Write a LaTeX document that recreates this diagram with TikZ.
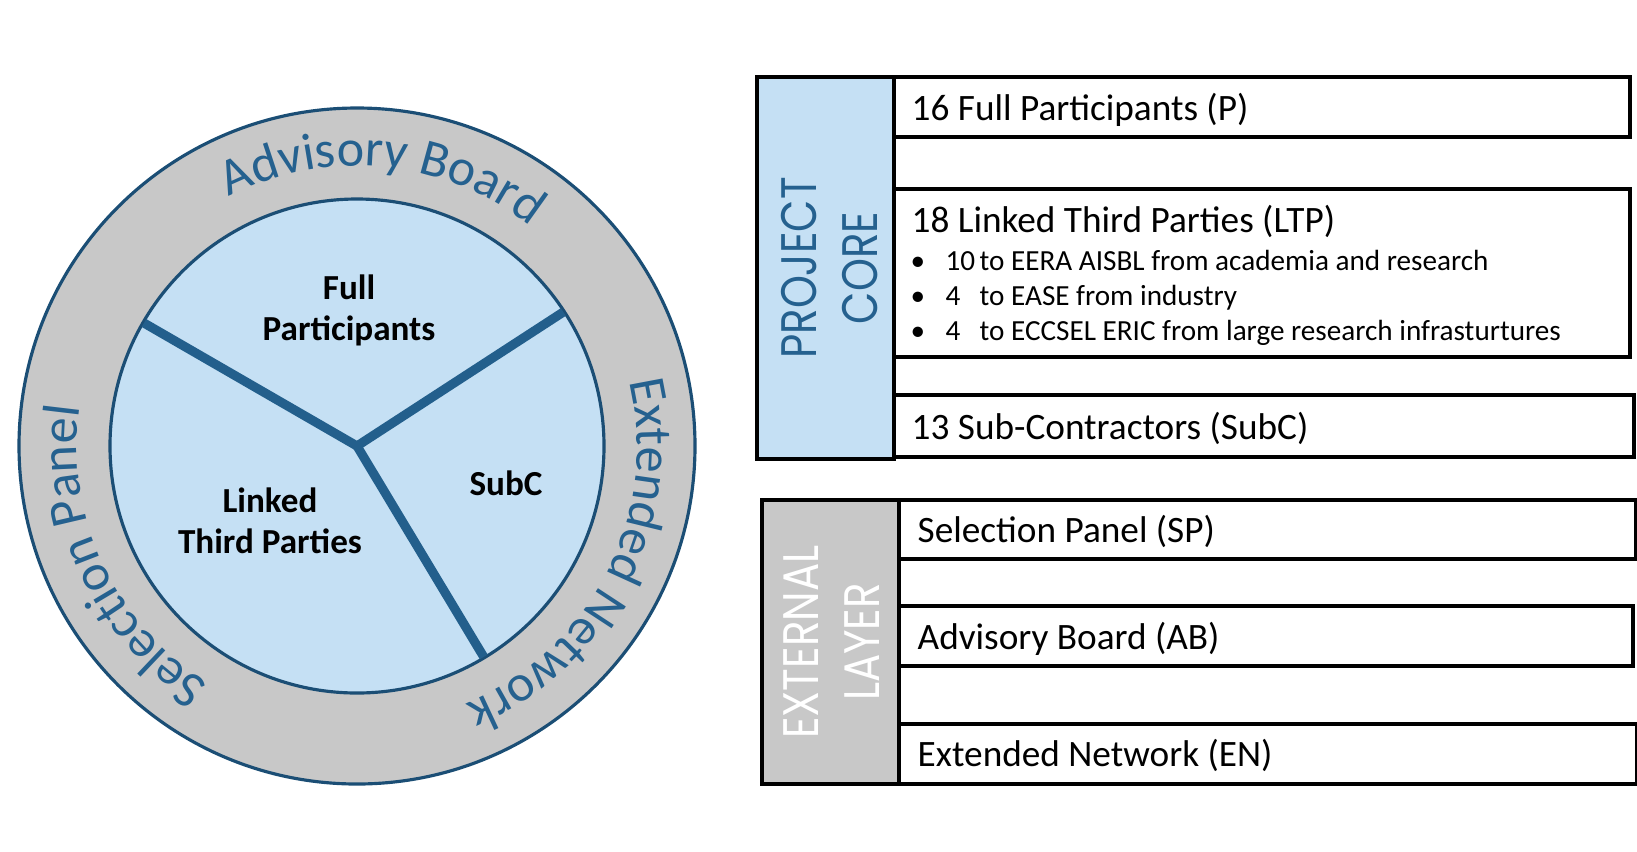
\documentclass[tikz,border=0pt]{standalone}
\usepackage{fontspec}
\setmainfont{Carlito}
\newfontfamily\labelfont[FakeStretch=0.84]{Poppins}
\usepackage{tikz}
\usetikzlibrary{positioning, decorations.text}
\definecolor{lightcore}{HTML}{C5E0F4}
\definecolor{ringgray}{HTML}{C8C8C8}
\definecolor{rimblue}{HTML}{1B4E75}
\definecolor{spokeblue}{HTML}{235F8C}
\definecolor{ringblue}{HTML}{25618F}
\newcommand{\ringfont}{\fontsize{14.8}{18}\selectfont}
\tikzset{
  labelbox/.style={
    draw=black, line width=0.9pt, rectangle, outer sep=0pt,
    minimum width=1.37cm
  },
  rowbox/.style={
    draw=black, fill=white, line width=0.9pt, rectangle, outer sep=0pt,
    minimum width=7.36cm
  },
  rowtext/.style={inner sep=0pt, anchor=base west, font=\fontsize{10.6}{12}\selectfont},
  subtext/.style={inner sep=0pt, anchor=base west, font=\fontsize{8.3}{10}\selectfont},
  labeltext/.style={rotate=90, align=center, inner sep=0pt,
    font=\labelfont\fontsize{14.2}{17.4}\selectfont},
  piece/.style={align=center, inner sep=0pt, font=\bfseries\fontsize{10}{11.7}\selectfont},
  spoke/.style={draw=spokeblue, line width=2.6pt, line join=miter},
  ringtext/.style={decorate, decoration={text along path, text align=center,
    text color=ringblue, text={|\ringfont|#1}}}
}

\begin{document}
\begin{tikzpicture}
\useasboundingbox (0,0) rectangle (16.37,-8.51);

\coordinate (hub) at (3.57,-4.46);
\filldraw[fill=ringgray, draw=rimblue, line width=0.9pt] (hub) circle (3.38);
\filldraw[fill=lightcore, draw=rimblue, line width=0.9pt] (hub) circle (2.47);
\draw[spoke] ([shift={(150:2.46)}]hub) -- (hub) -- ([shift={(33:2.46)}]hub);
\draw[spoke] (hub) -- ([shift={(-59:2.46)}]hub);

\path[ringtext=Advisory Board] ([shift={(144.5:2.80)}]hub) arc[start angle=144.5, end angle=24.5, radius=2.80];
\path[ringtext=Extended Network] ([shift={(33:2.80)}]hub) arc[start angle=33, end angle=-87, radius=2.80];
\path[ringtext=Selection Panel] ([shift={(265:2.80)}]hub) arc[start angle=265, end angle=145, radius=2.80];

\node[piece] (fullpiece) at (3.49,-3.10) {Full\\Participants};
\node[piece] (linkpiece) at (2.70,-5.21) {Linked\\Third Parties};
\node[piece] (subpiece)  at (5.06,-4.83) {SubC};

\node[labelbox, fill=lightcore, minimum height=3.82cm, anchor=north west] (core) at (7.57,-0.77) {};
\node[rowbox, minimum height=0.60cm, anchor=north west] (fullp) at (core.north east) {};
\node[rowbox, minimum height=1.68cm, below=0.52cm of fullp.south west, anchor=north west] (ltp) {};
\node[rowbox, minimum height=0.62cm, minimum width=7.40cm, below=0.38cm of ltp.south west, anchor=north west] (subc) {};
\node[labeltext, text=ringblue] (coretext) at ([xshift=0.04cm]core.center) {PROJECT\\CORE};

\node[rowtext] (fullptext) at ([shift={(0.17,-0.13)}]fullp.west) {16 Full Participants (P)};
\node[rowtext] (ltptext) at ([shift={(0.17,-0.43)}]ltp.north west) {18 Linked Third Parties (LTP)};
\node[subtext] (eera) at ([shift={(0.16,-0.81)}]ltp.north west)
  {\makebox[0.35cm][l]{\textbullet}\makebox[0.34cm][l]{10}to EERA AISBL from academia and research};
\node[subtext] (ease) at ([shift={(0.16,-1.16)}]ltp.north west)
  {\makebox[0.35cm][l]{\textbullet}\makebox[0.34cm][l]{4}to EASE from industry};
\node[subtext] (eccsel) at ([shift={(0.16,-1.51)}]ltp.north west)
  {\makebox[0.35cm][l]{\textbullet}\makebox[0.34cm][l]{4}to ECCSEL ERIC from large research infrasturtures};
\node[rowtext] (subctext) at ([shift={(0.17,-0.13)}]subc.west) {13 Sub-Contractors (SubC)};

\node[labelbox, fill=ringgray, minimum height=2.84cm, anchor=north west] (ext) at (7.62,-5.00) {};
\node[rowbox, minimum height=0.59cm, minimum width=7.37cm, anchor=north west] (sp) at (ext.north east) {};
\node[rowbox, minimum height=0.60cm, minimum width=7.34cm, below=0.47cm of sp.south west, anchor=north west] (ab) {};
\node[rowbox, minimum height=0.60cm, minimum width=7.38cm, below=0.58cm of ab.south west, anchor=north west] (en) {};
\node[labeltext, text=white] (exttext) at ([xshift=0.01cm]ext.center) {EXTERNAL\\LAYER};

\node[rowtext] (sptext) at ([shift={(0.18,-0.13)}]sp.west) {Selection Panel (SP)};
\node[rowtext] (abtext) at ([shift={(0.18,-0.13)}]ab.west) {Advisory Board (AB)};
\node[rowtext] (entext) at ([shift={(0.18,-0.12)}]en.west) {Extended Network (EN)};
\end{tikzpicture}
\end{document}
